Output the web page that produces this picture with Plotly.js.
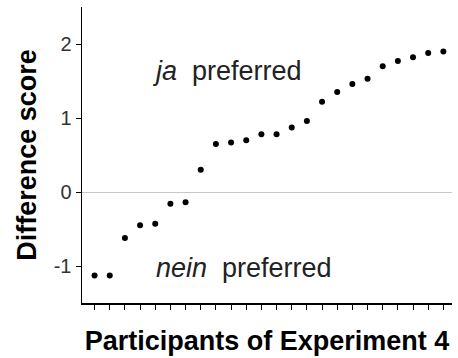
<!DOCTYPE html>
<html>
<head>
<meta charset="utf-8">
<script src="https://cdn.plot.ly/plotly-3.0.1.min.js"></script>
<style>html,body{margin:0;padding:0;background:#fff;}#chart{width:458px;height:358px;}</style>
</head>
<body>
<div id="chart"></div>
<script>
const participants = [1,2,3,4,5,6,7,8,9,10,11,12,13,14,15,16,17,18,19,20,21,22,23,24];
const differenceScores = [-1.13,-1.13,-0.62,-0.45,-0.43,-0.16,-0.14,0.30,0.65,0.67,0.70,0.78,0.78,0.87,0.96,1.22,1.35,1.46,1.53,1.70,1.77,1.82,1.88,1.90];
const yTickValues = [-1,0,1,2];
const yTickLabels = ['-1','0','1','2'];
const xTitle = 'Participants of Experiment 4';
const yTitle = 'Difference score';
const annotationTexts = ['<i>ja</i>  preferred', '<i>nein</i>  preferred'];

const font = 'Liberation Sans, Arial, sans-serif';

Plotly.newPlot('chart', [{
  x: participants,
  y: differenceScores,
  type: 'scatter',
  mode: 'markers',
  marker: {color: '#000', size: 6},
  hoverinfo: 'x+y'
}], {
  width: 458, height: 358,
  margin: {l: 82, r: 6, t: 7, b: 55},
  paper_bgcolor: '#fff', plot_bgcolor: '#fff',
  showlegend: false,
  font: {family: font, color: '#222'},
  xaxis: {
    range: [0.17, 24.57],
    tickvals: participants,
    showticklabels: false,
    ticks: 'outside', ticklen: 5, tickwidth: 1, tickcolor: '#000',
    showline: true, linecolor: '#000', linewidth: 1.5,
    showgrid: false, zeroline: false,
    title: {text: xTitle, font: {family: font, size: 27, color: '#000', weight: 'bold'}, standoff: 22}
  },
  yaxis: {
    range: [-1.5, 2.5],
    tickvals: yTickValues, ticktext: yTickLabels,
    ticks: 'outside', ticklen: 5, tickwidth: 1, tickcolor: '#000',
    tickfont: {family: font, size: 20, color: '#333'},
    showline: true, linecolor: '#000', linewidth: 1.5,
    showgrid: false,
    zeroline: true, zerolinecolor: '#c8c8c8', zerolinewidth: 1,
    title: {text: yTitle, font: {family: font, size: 27, color: '#000', weight: 'bold'}, standoff: 9}
  },
  annotations: [
    {x: 4.67, y: 1.63, xref: 'x', yref: 'y', xanchor: 'left', yanchor: 'middle', showarrow: false,
     text: annotationTexts[0], font: {family: font, size: 27, color: '#222'}},
    {x: 4.93, y: -1.03, xref: 'x', yref: 'y', xanchor: 'left', yanchor: 'middle', showarrow: false,
     text: annotationTexts[1], font: {family: font, size: 27, color: '#222'}}
  ]
}, {displayModeBar: false, staticPlot: true});
</script>
</body>
</html>
